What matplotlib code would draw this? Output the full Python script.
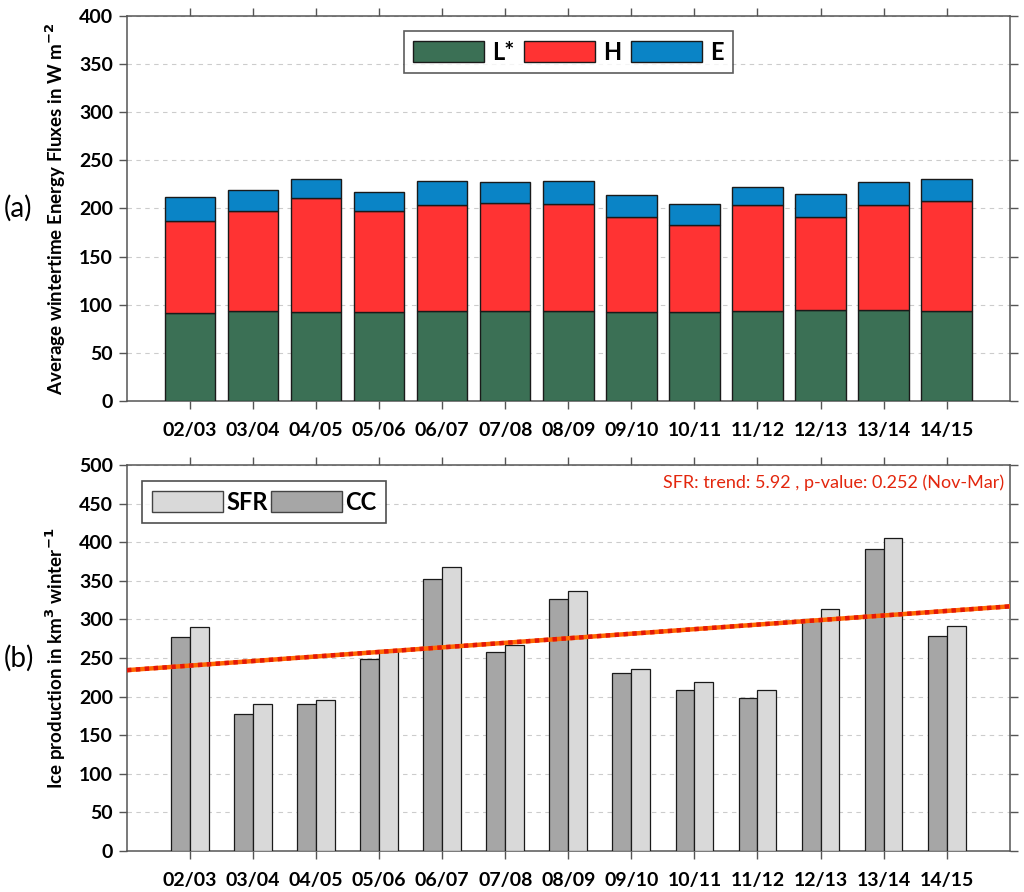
import numpy as np
import matplotlib
matplotlib.use("Agg")
import matplotlib.pyplot as plt
from matplotlib.patches import Patch

plt.rcParams['font.family'] = ['Lato', 'DejaVu Sans']

winters = ["02/03", "03/04", "04/05", "05/06", "06/07", "07/08", "08/09",
           "09/10", "10/11", "11/12", "12/13", "13/14", "14/15"]
L_star = [91.5, 93, 92.5, 92, 93, 93.5, 93.5, 92.5, 92.5, 93.5, 94, 94, 93.5]
H_flux = [95.5, 104.5, 118.5, 105, 111, 112.5, 111.5, 98.5, 90.5, 110.5, 97, 109, 114]
E_flux = [25, 21.5, 20, 20, 24, 21, 23, 22.5, 21.5, 18.5, 24, 24, 22.5]
CC = [277, 178, 191, 249, 352, 258, 326, 230, 208, 198, 300, 391, 279]
SFR = [290, 190, 196, 260, 368, 267, 337, 236, 219, 208, 314, 405, 292]

x = np.arange(1, len(winters) + 1)

fig = plt.figure(figsize=(10.24, 8.92), dpi=100)
ax1 = fig.add_axes([0.124, 0.5504, 0.862, 0.432])
ax2 = fig.add_axes([0.124, 0.046, 0.862, 0.4327])

c_L, c_H, c_E = '#3b7055', '#ff3333', '#0a84c6'
ec = '#1a1a1a'

L = np.array(L_star); H = np.array(H_flux); E = np.array(E_flux)
ax1.bar(x, L, 0.8, color=c_L, edgecolor=ec, linewidth=1, label='L*', zorder=3)
ax1.bar(x, H, 0.8, bottom=L, color=c_H, edgecolor=ec, linewidth=1, label='H', zorder=3)
ax1.bar(x, E, 0.8, bottom=L + H, color=c_E, edgecolor=ec, linewidth=1, label='E', zorder=3)
ax1.set_ylim(0, 400)
ax1.set_yticks(np.arange(0, 401, 50))
ax1.set_ylabel('Average wintertime Energy Fluxes in W m$^{\\mathbf{-2}}$',
               fontsize=13.5, fontweight='bold', labelpad=8)
leg1 = ax1.legend(loc='upper center', ncol=3, bbox_to_anchor=(0.5, 0.99),
                  prop={'weight': 'bold', 'size': 17}, handlelength=3.0,
                  handleheight=1.0, fancybox=False, edgecolor='#333333',
                  columnspacing=0.4, handletextpad=0.35, borderpad=0.4)
leg1.get_frame().set_linewidth(1.2)

ax2.bar(x - 0.15, CC, 0.3, color='#a6a6a6', edgecolor=ec, linewidth=0.9, zorder=3)
ax2.bar(x + 0.15, SFR, 0.3, color='#d9d9d9', edgecolor=ec, linewidth=0.9, zorder=3)
coef = np.polyfit(x, SFR, 1)
xl = np.array([0, 14])
ax2.plot(xl, np.polyval(coef, xl), color='#ff6a00', lw=3.2, zorder=4)
ax2.plot(xl, np.polyval(coef, xl), color='#e3170a', lw=3.2, ls=(0, (1, 1)), zorder=5)
ax2.set_ylim(0, 500)
ax2.set_yticks(np.arange(0, 501, 50))
ax2.set_ylabel('Ice production in km$^{\\mathbf{3}}$ winter$^{\\mathbf{-1}}$',
               fontsize=13.5, fontweight='bold', labelpad=8)
handles = [Patch(facecolor='#d9d9d9', edgecolor='#444444', label='SFR'),
           Patch(facecolor='#a6a6a6', edgecolor='#444444', label='CC')]
leg2 = ax2.legend(handles=handles, loc='upper left', ncol=2,
                  bbox_to_anchor=(0.004, 0.988),
                  prop={'weight': 'bold', 'size': 17}, handlelength=3.0,
                  handleheight=1.0, fancybox=False, edgecolor='#222222',
                  columnspacing=0.15, handletextpad=0.15, borderpad=0.4)
leg2.get_frame().set_linewidth(1.2)
ax2.text(0.994, 0.955, 'SFR: trend: 5.92 , p-value: 0.252 (Nov-Mar)',
         transform=ax2.transAxes, ha='right', va='center', color='#e3260d',
         fontsize=13)

for ax in (ax1, ax2):
    ax.set_xlim(0, 14)
    ax.set_xticks(x)
    ax.set_xticklabels(winters, fontsize=14, fontweight='bold')
    for lab in ax.get_yticklabels():
        lab.set_fontweight('bold')
        lab.set_fontsize(14)
    ax.tick_params(direction='out', length=6, width=1, color='#555555',
                   top=True, right=True, pad=4)
    ax.tick_params(axis='x', pad=9)
    ax.yaxis.grid(True, ls=(0, (4, 4)), color='#cccccc', lw=0.8, zorder=0)
    ax.set_axisbelow(True)
    for s in ax.spines.values():
        s.set_color('#555555')
        s.set_linewidth(1.1)

fig.text(0.004, 0.766, '(a)', fontsize=20, ha='left', va='center')
fig.text(0.004, 0.262, '(b)', fontsize=20, ha='left', va='center')

fig.savefig('out.png', dpi=100)
